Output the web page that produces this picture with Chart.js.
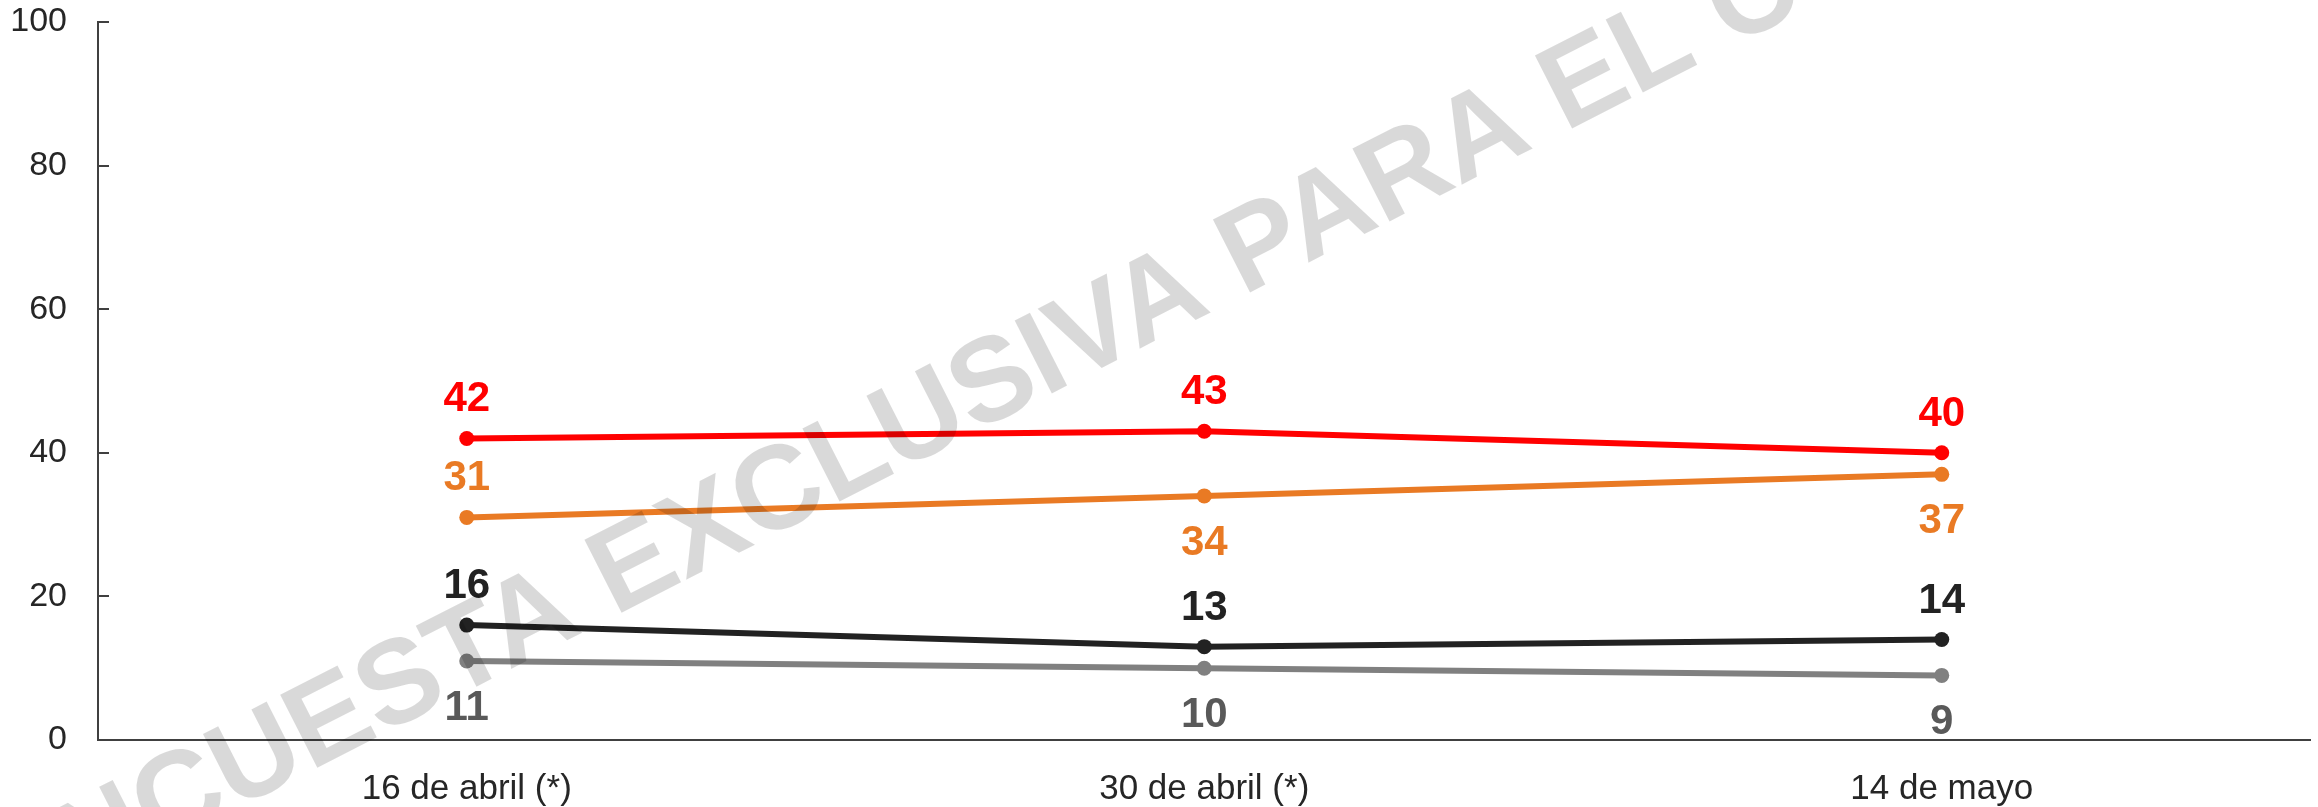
<!DOCTYPE html>
<html>
<head>
<meta charset="utf-8">
<script src="https://cdn.jsdelivr.net/npm/chart.js@4/dist/chart.umd.min.js"></script>
<style>
html,body{margin:0;padding:0;background:#fff;overflow:hidden}
#wrap{width:2318px;height:807px;position:relative}
</style>
</head>
<body>
<div id="wrap"><canvas id="c" width="2318" height="807"></canvas></div>
<script>
// ---- data ----
const categories = ['16 de abril (*)', '30 de abril (*)', '14 de mayo'];
const seriesRed = [42, 43, 40];
const seriesOrange = [31, 34, 37];
const seriesBlack = [16, 13, 14];
const seriesGray = [11, 10, 9];
const yTicks = [0, 20, 40, 60, 80, 100];
const labelPosRed = ['above', 'above', 'above'];
const labelPosOrange = ['above', 'below', 'below'];
const labelPosBlack = ['above', 'above', 'above'];
const labelPosGray = ['below', 'below', 'below'];
const watermarkText = 'ENCUESTA EXCLUSIVA PARA EL COMERCIO';

// ---- styles ----
const FONT = '"Liberation Sans", Arial, sans-serif';
const AXIS_COLOR = '#404040';
const TEXT_COLOR = '#262626';
const styles = [
  { color: '#808080', label: '#595959', pos: labelPosGray, data: seriesGray },
  { color: '#222222', label: '#222222', pos: labelPosBlack, data: seriesBlack },
  { color: '#E97A24', label: '#E97A24', pos: labelPosOrange, data: seriesOrange },
  { color: '#FF0000', label: '#FF0000', pos: labelPosRed, data: seriesRed }
];

const datasets = styles.map(s => ({
  data: s.data,
  borderColor: s.color,
  backgroundColor: s.color,
  pointBackgroundColor: s.color,
  pointBorderColor: s.color,
  pointBorderWidth: 0,
  pointRadius: 7.5,
  borderWidth: 6,
  tension: 0,
  fill: false
}));

const innerTicks = {
  id: 'innerTicks',
  afterDraw(chart) {
    const ys = chart.scales.y, a = chart.chartArea, ctx = chart.ctx;
    ctx.save();
    ctx.strokeStyle = AXIS_COLOR;
    ctx.lineWidth = 2;
    yTicks.forEach(v => {
      const y = Math.round(ys.getPixelForValue(v));
      ctx.beginPath();
      ctx.moveTo(a.left, y);
      ctx.lineTo(a.left + 11, y);
      ctx.stroke();
    });
    ctx.restore();
  }
};

const dataLabels = {
  id: 'dataLabels',
  afterDatasetsDraw(chart) {
    const ctx = chart.ctx;
    const fs = 42;
    ctx.save();
    ctx.font = 'bold ' + fs + 'px ' + FONT;
    ctx.textAlign = 'center';
    ctx.textBaseline = 'alphabetic';
    styles.forEach((s, i) => {
      const meta = chart.getDatasetMeta(i);
      meta.data.forEach((pt, j) => {
        const cy = s.pos[j] === 'above' ? pt.y - 42 : pt.y + 44;
        ctx.fillStyle = s.label;
        ctx.fillText(String(s.data[j]), pt.x, cy + 0.358 * fs);
      });
    });
    ctx.restore();
  }
};

const watermark = {
  id: 'watermark',
  afterDraw(chart) {
    const ctx = chart.ctx;
    ctx.save();
    ctx.font = 'bold 119px ' + FONT;
    const pre = ctx.measureText('ENCUESTA EXCLUSIVA ').width;
    const ang = -27 * Math.PI / 180;
    const ax = 1243, ay = 296;
    const ox = ax - pre * Math.cos(ang);
    const oy = ay - pre * Math.sin(ang);
    ctx.translate(ox, oy);
    ctx.rotate(ang);
    ctx.fillStyle = 'rgba(0,0,0,0.15)';
    ctx.textAlign = 'left';
    ctx.textBaseline = 'alphabetic';
    ctx.fillText(watermarkText, 0, 0);
    ctx.restore();
  }
};

new Chart(document.getElementById('c'), {
  type: 'line',
  data: { labels: categories, datasets },
  options: {
    responsive: false,
    animation: false,
    devicePixelRatio: 1,
    layout: { padding: { top: 22, right: 5, left: 0, bottom: 0 } },
    plugins: { legend: { display: false }, tooltip: { enabled: false } },
    scales: {
      x: {
        type: 'category',
        offset: true,
        grid: { display: false, drawTicks: false },
        border: { display: true, color: AXIS_COLOR, width: 2 },
        ticks: {
          color: TEXT_COLOR,
          font: { family: FONT, size: 35 },
          padding: 28,
          maxRotation: 0,
          autoSkip: false
        },
        afterFit(s) { s.height = 67; s.paddingLeft = 0; s.paddingRight = 0; }
      },
      y: {
        min: 0,
        max: 100,
        grid: { display: false, drawTicks: false },
        border: { display: true, color: AXIS_COLOR, width: 2 },
        afterBuildTicks(s) { s.ticks = yTicks.map(v => ({ value: v })); },
        ticks: {
          color: TEXT_COLOR,
          font: { family: FONT, size: 34 },
          padding: 31
        },
        afterFit(s) { s.width = 98; s.paddingTop = 0; s.paddingBottom = 0; }
      }
    }
  },
  plugins: [innerTicks, dataLabels, watermark]
});
</script>
</body>
</html>
